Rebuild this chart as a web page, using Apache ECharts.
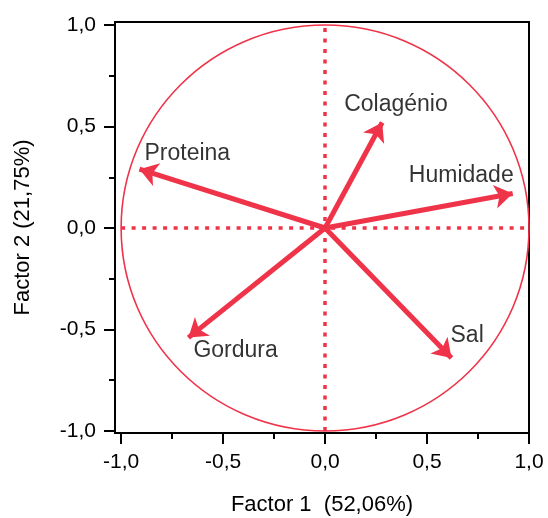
<!DOCTYPE html>
<html>
<head>
<meta charset="utf-8">
<script src="https://cdn.jsdelivr.net/npm/echarts@6/dist/echarts.min.js"></script>
<style>
  html, body { margin: 0; padding: 0; background: #fff; }
  #chart { width: 548px; height: 518px; }
</style>
</head>
<body>
<div id="chart"></div>
<script>
// Loadings of each variable on the first two factors
const variables = ['Proteina', 'Colagénio', 'Humidade', 'Gordura', 'Sal'];
const factor1 = [-0.91, 0.28, 0.92, -0.67, 0.62];
const factor2 = [0.29, 0.52, 0.17, -0.54, -0.64];

const axisTicks = [-1.0, -0.5, 0.0, 0.5, 1.0];
const minorTicks = [-0.75, -0.25, 0.25, 0.75];
const xTitle = 'Factor 1  (52,06%)';
const yTitle = 'Factor 2 (21,75%)';

const RED = '#ef3349';
const FONT = 'Liberation Sans, Arial, sans-serif';

// label placement around each arrow tip: [dx, dy, align]
const labelPlacement = {
  'Proteina': [5, -15, 'left'],
  'Colagénio': [-38, -18, 'left'],
  'Humidade': [1, -18, 'right'],
  'Gordura': [5, 13, 'left'],
  'Sal': [-1, -22, 'left']
};

const fmt = v => v.toFixed(1).replace('.', ',');

const arrows = variables.map((name, i) => ({
  name,
  coords: [[0, 0], [factor1[i], factor2[i]]]
}));

const tips = variables.map((name, i) => {
  const p = labelPlacement[name];
  return {
    name,
    value: [factor1[i], factor2[i]],
    label: { offset: [p[0], p[1]], align: p[2] }
  };
});

const X_RANGE = { min: -1.03, max: 1.0 };
const Y_RANGE = { min: -1.01, max: 1.015 };

function majorAxis(range, extra, margin) {
  return Object.assign({
    type: 'value',
    min: range.min, max: range.max,
    splitLine: { show: false },
    axisLine: { show: true, onZero: false, lineStyle: { color: '#000', width: 2 } },
    axisTick: { show: true, inside: false, length: 11, customValues: axisTicks, lineStyle: { color: '#000', width: 2 } },
    axisLabel: {
      color: '#000', fontSize: 21, fontFamily: FONT,
      margin: margin,
      customValues: axisTicks,
      formatter: v => fmt(v)
    },
    nameLocation: 'middle',
    nameTextStyle: { color: '#000', fontSize: 22, fontFamily: FONT }
  }, extra);
}

function minorAxis(range) {
  return {
    type: 'value',
    min: range.min, max: range.max,
    splitLine: { show: false },
    axisLine: { show: false, onZero: false },
    axisTick: { show: true, inside: false, length: 6, customValues: minorTicks, lineStyle: { color: '#000', width: 2 } },
    axisLabel: { show: false }
  };
}

const chart = echarts.init(document.getElementById('chart'), null, { renderer: 'canvas' });
chart.setOption({
  animation: false,
  backgroundColor: '#fff',
  grid: {
    left: 115, right: 19, top: 22, bottom: 85,
    containLabel: false, outerBoundsMode: 'none',
    show: true, borderColor: '#000', borderWidth: 2, backgroundColor: 'transparent'
  },
  xAxis: [
    majorAxis(X_RANGE, { name: xTitle, nameGap: 61, position: 'bottom' }, 19),
    Object.assign(minorAxis(X_RANGE), { position: 'bottom' })
  ],
  yAxis: [
    majorAxis(Y_RANGE, { name: yTitle, nameGap: 81, position: 'left' }, 19),
    Object.assign(minorAxis(Y_RANGE), { position: 'left' })
  ],
  series: [
    {
      // unit correlation circle
      type: 'custom',
      coordinateSystem: 'cartesian2d',
      silent: true,
      data: [[0, 0]],
      renderItem: (params, api) => {
        const c = api.coord([0, 0]);
        const s = api.size([1, 1]);
        return {
          type: 'ellipse',
          shape: { cx: c[0], cy: c[1], rx: s[0], ry: s[1] },
          style: { fill: 'none', stroke: RED, lineWidth: 1.6 }
        };
      },
      z: 1
    },
    {
      // dotted reference axes through the origin
      type: 'lines',
      coordinateSystem: 'cartesian2d',
      silent: true,
      symbol: 'none',
      lineStyle: { color: RED, width: 3.5, type: [4, 6.5], opacity: 1 },
      data: [
        { coords: [[-1, 0], [1, 0]] },
        { coords: [[0, -1], [0, 1]] }
      ],
      z: 2
    },
    {
      // factor loading vectors
      type: 'lines',
      coordinateSystem: 'cartesian2d',
      silent: true,
      symbol: ['none', 'arrow'],
      symbolSize: 18,
      lineStyle: { color: RED, width: 5, opacity: 1 },
      data: arrows,
      z: 3
    },
    {
      // variable names next to the arrow tips
      type: 'scatter',
      silent: true,
      symbol: 'circle',
      symbolSize: 1,
      itemStyle: { color: 'rgba(0,0,0,0)' },
      data: tips,
      label: {
        show: true,
        position: 'inside',
        formatter: p => p.name,
        color: '#000',
        fontSize: 23,
        fontFamily: FONT,
        verticalAlign: 'middle'
      },
      z: 4
    }
  ]
});
</script>
</body>
</html>
